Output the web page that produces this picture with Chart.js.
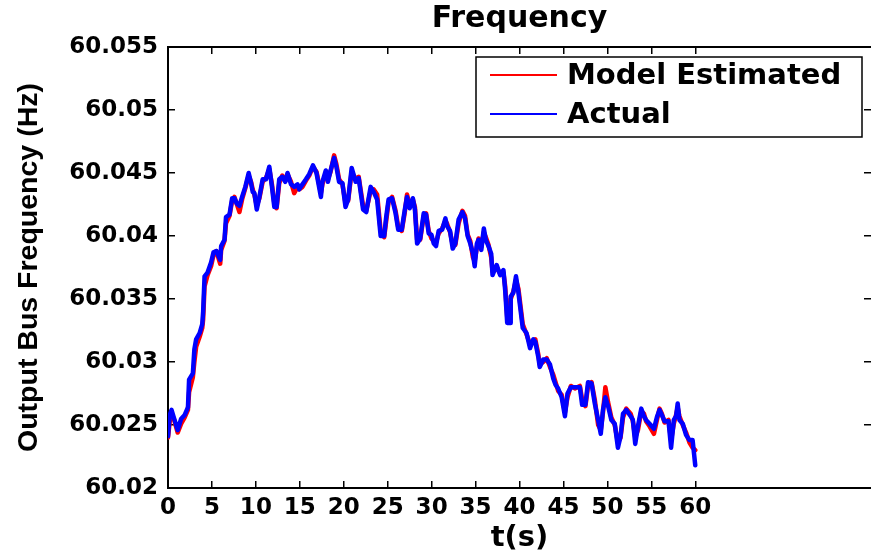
<!DOCTYPE html>
<html>
<head>
<meta charset="utf-8">
<title>Frequency</title>
<script src="https://cdn.jsdelivr.net/npm/chart.js@4.4.1/dist/chart.umd.min.js"></script>
<style>
  html, body { margin: 0; padding: 0; background: #fff; overflow: hidden; }
  canvas { display: block; }
</style>
</head>
<body>
<canvas id="freq" width="871" height="552"></canvas>
<script>
// Sample times (s)
const timeSec = [0, 0.2, 0.4, 0.7, 1.1, 1.5, 1.9, 2.27, 2.4, 2.83, 3.0, 3.2, 3.6, 3.9, 4.0, 4.16, 4.5, 4.9, 5.18, 5.5,
  5.94, 6.05, 6.43, 6.6, 7.0, 7.3, 7.56, 7.8, 8.13, 8.43, 8.8, 9.18, 9.45, 9.64, 9.83, 10.1, 10.4, 10.77, 11.15, 11.53,
  11.83, 12.1, 12.36, 12.66, 13.0, 13.35, 13.6, 14.0, 14.36, 14.74, 14.93, 15.3, 15.7, 16.07, 16.5, 16.9, 17.4, 17.57, 17.96, 18.2,
  18.5, 18.9, 19.16, 19.47, 19.85, 20.2, 20.5, 20.9, 21.36, 21.7, 22.2, 22.56, 23.06, 23.4, 23.8, 24.2, 24.6, 24.83, 25.1, 25.5,
  25.9, 26.2, 26.6, 26.95, 27.2, 27.5, 27.86, 28.1, 28.35, 28.7, 29.1, 29.37, 29.67, 29.98, 30.24, 30.5, 30.8, 31.2, 31.57, 31.75,
  32.1, 32.4, 32.7, 33.07, 33.5, 33.8, 34.1, 34.4, 34.7, 34.9, 35.15, 35.34, 35.65, 35.94, 36.17, 36.47, 36.78, 36.93, 37.4, 37.8,
  38.17, 38.37, 38.6, 38.93, 39.0, 39.3, 39.6, 39.88, 40.37, 40.8, 41.2, 41.57, 41.8, 42.14, 42.3, 42.7, 43.1, 43.47, 43.84, 44.1,
  44.4, 44.8, 45.17, 45.46, 45.85, 46.3, 46.87, 47.13, 47.5, 47.8, 48.2, 48.57, 48.95, 49.25, 49.5, 49.77, 50.08, 50.45, 50.84, 51.2,
  51.5, 51.78, 52.15, 52.65, 52.9, 53.17, 53.48, 53.86, 54.16, 54.4, 54.8, 55.3, 55.67, 55.94, 56.2, 56.5, 56.96, 57.25, 57.56, 57.82,
  58.0, 58.2, 58.58, 58.96, 59.34, 59.7, 60.0];

// Measured output bus frequency (Hz)
const actualHz = [60.0241, 60.0258, 60.0262, 60.0255, 60.0246, 60.0255, 60.0258, 60.0264, 60.0286, 60.0291, 60.0310, 60.0318, 60.0323, 60.0330, 60.0340, 60.0368, 60.0371, 60.0379, 60.0387, 60.0388,
  60.0381, 60.0392, 60.0397, 60.0415, 60.0417, 60.0430, 60.0430, 60.0426, 60.0424, 60.0431, 60.0439, 60.0450, 60.0442, 60.0435, 60.0434, 60.0421, 60.0431, 60.0445, 60.0445, 60.0455,
  60.0439, 60.0423, 60.0423, 60.0445, 60.0447, 60.0443, 60.0450, 60.0441, 60.0439, 60.0441, 60.0437, 60.0441, 60.0445, 60.0449, 60.0456, 60.0450, 60.0431, 60.0443, 60.0452, 60.0443,
  60.0452, 60.0462, 60.0455, 60.0443, 60.0442, 60.0423, 60.0429, 60.0454, 60.0443, 60.0446, 60.0421, 60.0419, 60.0439, 60.0435, 60.0429, 60.0400, 60.0400, 60.0415, 60.0429, 60.0430,
  60.0418, 60.0405, 60.0405, 60.0421, 60.0431, 60.0422, 60.0430, 60.0421, 60.0394, 60.0398, 60.0418, 60.0417, 60.0402, 60.0401, 60.0394, 60.0392, 60.0404, 60.0405, 60.0414, 60.0408,
  60.0404, 60.0390, 60.0394, 60.0413, 60.0419, 60.0414, 60.0400, 60.0394, 60.0386, 60.0376, 60.0394, 60.0397, 60.0389, 60.0406, 60.0397, 60.0392, 60.0386, 60.0369, 60.0377, 60.0369,
  60.0373, 60.0357, 60.0331, 60.0331, 60.0352, 60.0355, 60.0368, 60.0355, 60.0327, 60.0323, 60.0311, 60.0318, 60.0316, 60.0304, 60.0296, 60.0302, 60.0302, 60.0298, 60.0287, 60.0282,
  60.0279, 60.0272, 60.0257, 60.0275, 60.0280, 60.0280, 60.0280, 60.0266, 60.0266, 60.0284, 60.0283, 60.0267, 60.0254, 60.0243, 60.0262, 60.0272, 60.0265, 60.0254, 60.0251, 60.0232,
  60.0241, 60.0259, 60.0262, 60.0257, 60.0254, 60.0235, 60.0249, 60.0263, 60.0257, 60.0254, 60.0251, 60.0247, 60.0257, 60.0262, 60.0258, 60.0253, 60.0253, 60.0232, 60.0254, 60.0257,
  60.0267, 60.0254, 60.0251, 60.0242, 60.0238, 60.0238, 60.0218];

// Model-estimated output bus frequency (Hz)
const modelHz = [60.0240, 60.0253, 60.0259, 60.0254, 60.0244, 60.0251, 60.0256, 60.0262, 60.0276, 60.0288, 60.0300, 60.0312, 60.0320, 60.0327, 60.0334, 60.0360, 60.0369, 60.0376, 60.0385, 60.0388,
  60.0378, 60.0389, 60.0396, 60.0410, 60.0416, 60.0428, 60.0431, 60.0426, 60.0419, 60.0429, 60.0438, 60.0448, 60.0443, 60.0437, 60.0433, 60.0424, 60.0430, 60.0443, 60.0446, 60.0453,
  60.0441, 60.0426, 60.0422, 60.0442, 60.0448, 60.0444, 60.0449, 60.0443, 60.0434, 60.0439, 60.0437, 60.0439, 60.0444, 60.0448, 60.0455, 60.0451, 60.0434, 60.0441, 60.0450, 60.0445,
  60.0451, 60.0464, 60.0457, 60.0445, 60.0441, 60.0426, 60.0428, 60.0451, 60.0445, 60.0447, 60.0424, 60.0420, 60.0436, 60.0437, 60.0433, 60.0404, 60.0399, 60.0412, 60.0427, 60.0431,
  60.0420, 60.0407, 60.0404, 60.0419, 60.0433, 60.0424, 60.0429, 60.0423, 60.0397, 60.0397, 60.0416, 60.0418, 60.0404, 60.0398, 60.0396, 60.0395, 60.0402, 60.0406, 60.0412, 60.0410,
  60.0403, 60.0393, 60.0393, 60.0410, 60.0420, 60.0416, 60.0401, 60.0396, 60.0383, 60.0380, 60.0391, 60.0398, 60.0391, 60.0403, 60.0399, 60.0393, 60.0383, 60.0372, 60.0375, 60.0370,
  60.0371, 60.0360, 60.0336, 60.0338, 60.0350, 60.0356, 60.0365, 60.0358, 60.0330, 60.0322, 60.0314, 60.0316, 60.0318, 60.0306, 60.0298, 60.0300, 60.0303, 60.0296, 60.0290, 60.0284,
  60.0277, 60.0274, 60.0260, 60.0272, 60.0281, 60.0279, 60.0281, 60.0270, 60.0265, 60.0281, 60.0284, 60.0270, 60.0250, 60.0246, 60.0260, 60.0280, 60.0268, 60.0256, 60.0250, 60.0236,
  60.0240, 60.0256, 60.0263, 60.0259, 60.0253, 60.0240, 60.0246, 60.0261, 60.0259, 60.0253, 60.0249, 60.0243, 60.0255, 60.0263, 60.0259, 60.0252, 60.0254, 60.0238, 60.0251, 60.0258,
  60.0264, 60.0257, 60.0250, 60.0244, 60.0236, 60.0232, 60.0230];

// Axis ticks
const xTickValues = [0, 5, 10, 15, 20, 25, 30, 35, 40, 45, 50, 55, 60];
const xTickLabels = ['0', '5', '10', '15', '20', '25', '30', '35', '40', '45', '50', '55', '60'];
const yTickValues = [60.02, 60.025, 60.03, 60.035, 60.04, 60.045, 60.05, 60.055];
const yTickLabels = ['60.02', '60.025', '60.03', '60.035', '60.04', '60.045', '60.05', '60.055'];

const X_MIN = 0, X_MAX = 80;
const Y_MIN = 60.02, Y_MAX = 60.055;

const FONT = "'DejaVu Sans', sans-serif";

const toPoints = (values) => timeSec.map((t, i) => ({ x: t, y: values[i] }));

// Inward tick marks (negative tick length) on every side of the box
const tickGrid = { display: true, drawOnChartArea: false, drawTicks: true, tickLength: -7, color: '#000', lineWidth: 1.5 };
const setTicks = (values) => (scale) => { scale.ticks = values.map(v => ({ value: v })); };

// Boxed legend drawn inside the upper-right corner of the plot area
const boxedLegend = {
  id: 'boxedLegend',
  afterDatasetsDraw(chart) {
    const { ctx, chartArea } = chart;
    const w = 386, h = 80;
    const x0 = chartArea.right - 395, y0 = chartArea.top + 10;
    ctx.save();
    ctx.fillStyle = '#fff';
    ctx.fillRect(x0, y0, w, h);
    ctx.strokeStyle = '#000';
    ctx.lineWidth = 1.5;
    ctx.strokeRect(x0, y0, w, h);
    ctx.font = 'bold 29px ' + FONT;
    ctx.textBaseline = 'middle';
    ctx.textAlign = 'left';
    chart.data.datasets.forEach((ds, i) => {
      const y = y0 + 18 + i * 39;
      ctx.strokeStyle = ds.borderColor;
      ctx.lineWidth = 2;
      ctx.beginPath();
      ctx.moveTo(x0 + 14, y);
      ctx.lineTo(x0 + 81, y);
      ctx.stroke();
      ctx.fillStyle = '#000';
      ctx.fillText(ds.label, x0 + 91, y + 1);
    });
    ctx.restore();
  }
};

new Chart(document.getElementById('freq'), {
  type: 'line',
  data: {
    datasets: [
      {
        label: 'Model Estimated',
        data: toPoints(modelHz),
        borderColor: '#ff0000',
        borderWidth: 4.5,
        order: 2
      },
      {
        label: 'Actual',
        data: toPoints(actualHz),
        borderColor: '#0000ff',
        borderWidth: 4.5,
        order: 1
      }
    ]
  },
  options: {
    responsive: false,
    animation: false,
    elements: {
      point: { radius: 0, hoverRadius: 0 },
      line: { tension: 0, fill: false, borderJoinStyle: 'round', borderCapStyle: 'round' }
    },
    layout: { padding: 0 },
    plugins: {
      legend: { display: false },
      tooltip: { enabled: false },
      title: {
        display: true,
        text: 'Frequency',
        fullSize: false,
        color: '#000',
        font: { family: FONT, size: 30, weight: 'bold', lineHeight: 1.1 },
        padding: { top: 3, bottom: 11 }
      }
    },
    scales: {
      x: {
        type: 'linear',
        position: 'bottom',
        min: X_MIN,
        max: X_MAX,
        afterBuildTicks: setTicks(xTickValues),
        afterFit: (s) => { s.height = 64; },
        ticks: {
          autoSkip: false,
          maxRotation: 0,
          padding: 13,
          color: '#000',
          font: { family: FONT, size: 23, weight: 'bold' },
          callback: (v, i) => xTickLabels[i]
        },
        grid: tickGrid,
        border: { display: true, color: '#000', width: 2 },
        title: {
          display: true,
          text: 't(s)',
          color: '#000',
          font: { family: FONT, size: 29, weight: 'bold', lineHeight: 0.9 },
          padding: { top: 0, bottom: 0 }
        }
      },
      xTop: {
        type: 'linear',
        position: 'top',
        min: X_MIN,
        max: X_MAX,
        afterBuildTicks: setTicks(xTickValues),
        afterFit: (s) => { s.height = 0; },
        ticks: { display: false },
        grid: tickGrid,
        border: { display: true, color: '#000', width: 2 }
      },
      y: {
        type: 'linear',
        position: 'left',
        min: Y_MIN,
        max: Y_MAX,
        afterBuildTicks: setTicks(yTickValues),
        afterFit: (s) => { s.width = 168; },
        ticks: {
          padding: 17,
          color: '#000',
          font: { family: FONT, size: 23, weight: 'bold' },
          callback: (v, i) => yTickLabels[i]
        },
        grid: tickGrid,
        border: { display: true, color: '#000', width: 2 },
        title: {
          display: true,
          text: 'Output Bus Frequency (Hz)',
          color: '#000',
          font: { family: "'Liberation Sans', Arial, sans-serif", size: 28.5, weight: 'bold', lineHeight: 1.2 },
          padding: { top: 12, bottom: 0 }
        }
      },
      yRight: {
        type: 'linear',
        position: 'right',
        min: Y_MIN,
        max: Y_MAX,
        afterBuildTicks: setTicks(yTickValues),
        afterFit: (s) => { s.width = 0; },
        ticks: { display: false },
        grid: tickGrid,
        border: { display: false }
      }
    }
  },
  plugins: [boxedLegend]
});
</script>
</body>
</html>
